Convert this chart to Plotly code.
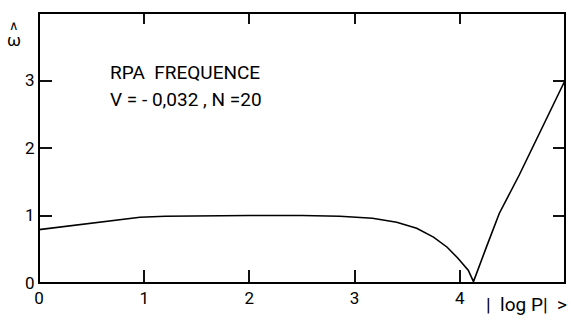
import plotly.graph_objects as go

# data
log_p = [0, 0.25, 0.55, 0.96, 1.2, 1.6, 2.0, 2.5, 2.86, 3.17, 3.40, 3.59, 3.75, 3.88, 3.98, 4.08, 4.13,
         4.25, 4.375, 4.565, 4.80, 5.0]
omega = [0.79, 0.84, 0.89, 0.975, 0.99, 1.0, 1.0, 1.0, 0.99, 0.96, 0.90, 0.81, 0.68, 0.53, 0.37, 0.19, 0.02,
         0.52, 1.03, 1.60, 2.36, 3.0]
x_ticks = [0, 1, 2, 3, 4]
y_ticks = [0, 1, 2, 3]
title_lines = ["RPA  FREQUENCE", "V = - 0,032 , N =20"]
x_title = "|  log P|  >"
y_arrow = "∧"
y_title = "ω"

FONT = "Roboto, DejaVu Sans, sans-serif"
X_RANGE = [0, 5]
Y_RANGE = [0, 4]

fig = go.Figure()
fig.add_trace(go.Scatter(x=log_p, y=omega, mode="lines",
                         line=dict(color="black", width=1.6), showlegend=False, hoverinfo="skip"))
# invisible copy so that the top/right tick axes get drawn
fig.add_trace(go.Scatter(x=log_p, y=omega, mode="lines", xaxis="x2", yaxis="y2", opacity=0,
                         line=dict(color="black", width=0), showlegend=False, hoverinfo="skip"))

base = dict(ticks="inside", tickcolor="#111111", tickwidth=2, showline=True, linecolor="black")

fig.update_layout(
    width=571, height=321,
    margin=dict(l=39, r=6, t=13, b=38),
    plot_bgcolor="white",
    font=dict(family=FONT, size=17, color="black"),
    xaxis=dict(range=X_RANGE, tickvals=x_ticks, ticklen=13, **base),
    yaxis=dict(range=Y_RANGE, tickvals=y_ticks, ticklen=13, **base),
    xaxis2=dict(range=X_RANGE, tickvals=x_ticks, ticklen=11, showticklabels=False,
                overlaying="x", side="top", anchor="y2", **base),
    yaxis2=dict(range=Y_RANGE, tickvals=y_ticks, ticklen=12, showticklabels=False,
                overlaying="y", side="right", anchor="x2", **base),
    shapes=[dict(type="rect", xref="paper", yref="paper", x0=0, y0=0, x1=1, y1=1,
                 line=dict(color="black", width=2), layer="above")],
)

fig.add_annotation(x=0.131, y=0.778, xref="paper", yref="paper", xanchor="left", yanchor="middle",
                   text=title_lines[0], showarrow=False, font=dict(family=FONT, size=19))
fig.add_annotation(x=0.131, y=0.678, xref="paper", yref="paper", xanchor="left", yanchor="middle",
                   text=title_lines[1], showarrow=False, font=dict(family=FONT, size=19))
fig.add_annotation(x=1.008, y=-0.08, xref="paper", yref="paper", xanchor="right", yanchor="middle",
                   text=x_title, showarrow=False, font=dict(family=FONT, size=19))
fig.add_annotation(x=-0.048, y=0.955, xref="paper", yref="paper", xanchor="center", yanchor="middle",
                   text=y_arrow, showarrow=False, font=dict(family=FONT, size=13))
fig.add_annotation(x=-0.048, y=0.9, xref="paper", yref="paper", xanchor="center", yanchor="middle",
                   text=y_title, showarrow=False, font=dict(family=FONT, size=17))

fig.write_html("out.html", config={"displayModeBar": False},
               post_script="document.body.style.margin='0';")
